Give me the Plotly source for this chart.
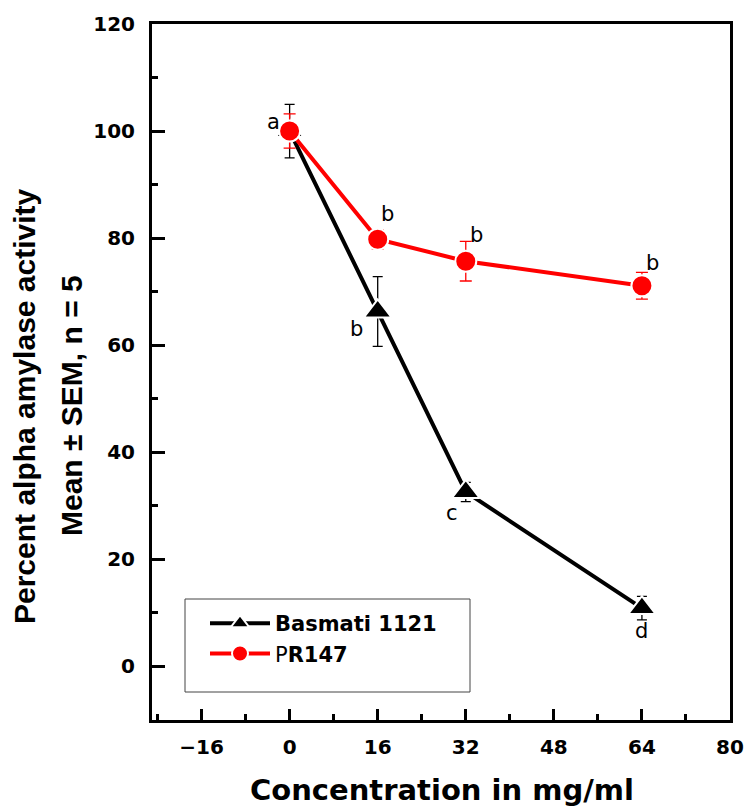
import plotly.graph_objects as go

# ---- data ----
conc = [0, 16, 32, 64]
basmati = [100, 66.3, 32.6, 10.9]
basmati_err = [5, 6.5, 1.8, 2.2]
pr147 = [100, 79.8, 75.7, 71.1]
pr147_err = [3.2, 1.8, 3.7, 2.5]
basmati_letters = ["", "b", "c", "d"]
pr147_letters = ["a", "b", "b", "b"]
x_title = "Concentration in mg/ml"
y_title_lines = ["Percent alpha amylase activity", "Mean ± SEM, n = 5"]

# ---- style ----
bas_offsets = [(0, 0), (-21, -17), (-14, -21), (0, -23)]
pr_offsets = [(-16, 9), (10, 25), (11, 26), (11, 23)]

W, H = 746, 807
L, R, T, B = 152, 16, 24, 87
PW, PH = W - L - R, H - T - B


def px_x(p):
    return (p - L) / PW


def px_y(p):
    return (H - B - p) / PH


fig = go.Figure()
fig.add_trace(go.Scatter(
    x=conc, y=basmati, name="<b>Basmati 1121</b>", mode="lines+markers",
    line=dict(color="black", width=4),
    marker=dict(symbol="triangle-up", size=24, color="black",
                line=dict(color="white", width=2)),
    error_y=dict(type="data", array=basmati_err, color="black",
                 thickness=1.3, width=5),
))
fig.add_trace(go.Scatter(
    x=conc, y=pr147, name="P<b>R147</b>", mode="lines+markers",
    line=dict(color="#ff0000", width=4),
    marker=dict(symbol="circle", size=21, color="#ff0000",
                line=dict(color="white", width=2)),
    error_y=dict(type="data", array=pr147_err, color="#ff0000",
                 thickness=1.3, width=6),
))

letter_font = dict(family="DejaVu Sans", size=21, color="black")
annotations = []
for xv, yv, t, (dx, dy) in zip(conc, basmati, basmati_letters, bas_offsets):
    if t:
        annotations.append(dict(x=xv, y=yv, xref="x", yref="y", text=t,
                                showarrow=False, xshift=dx, yshift=dy, font=letter_font))
for xv, yv, t, (dx, dy) in zip(conc, pr147, pr147_letters, pr_offsets):
    if t:
        annotations.append(dict(x=xv, y=yv, xref="x", yref="y", text=t,
                                showarrow=False, xshift=dx, yshift=dy, font=letter_font))

annotations.append(dict(x=px_x(442), y=px_y(790), xref="paper", yref="paper",
                        text="<b>" + x_title + "</b>", showarrow=False,
                        xanchor="center", yanchor="middle",
                        font=dict(family="DejaVu Sans", size=29, color="black")))
for line_text, cx in zip(y_title_lines, [24, 71]):
    annotations.append(dict(x=px_x(cx), y=px_y(406), xref="paper", yref="paper",
                            text="<b>" + line_text + "</b>",
                            showarrow=False, textangle=-90, xanchor="center", yanchor="middle",
                            font=dict(family="Liberation Sans", size=30, color="black")))

fig.update_layout(
    width=W, height=H,
    margin=dict(l=L, r=R, t=T, b=B),
    paper_bgcolor="white", plot_bgcolor="white",
    showlegend=True,
    legend=dict(x=px_x(205), y=px_y(603), xanchor="left", yanchor="top",
                bgcolor="rgba(0,0,0,0)", borderwidth=0,
                font=dict(family="DejaVu Sans", size=21, color="black"),
                itemwidth=60, tracegroupgap=0),
    annotations=annotations,
    shapes=[dict(type="rect", xref="paper", yref="paper",
                 x0=px_x(185), x1=px_x(470), y0=px_y(692), y1=px_y(599),
                 line=dict(color="#444444", width=1))],
)

tickfont = dict(family="DejaVu Sans", size=20, color="black")
fig.update_xaxes(
    range=[-25, 80], tick0=0, dtick=16, ticks="inside", ticklen=11, tickwidth=3,
    tickcolor="black", showline=True, linewidth=3, linecolor="black", mirror=True,
    showgrid=False, zeroline=False, tickfont=tickfont, tickprefix="<b>", ticksuffix="</b>",
    ticklabelstandoff=7, automargin=False,
    minor=dict(dtick=8, tick0=0, ticks="inside", ticklen=6, tickwidth=3, tickcolor="black"),
)
fig.update_yaxes(
    range=[-10, 120], tick0=0, dtick=20, ticks="inside", ticklen=13, tickwidth=3,
    tickcolor="black", showline=True, linewidth=3, linecolor="black", mirror=True,
    showgrid=False, zeroline=False, tickfont=tickfont, tickprefix="<b>", ticksuffix="</b>",
    ticklabelstandoff=10, automargin=False,
    minor=dict(dtick=10, tick0=0, ticks="inside", ticklen=6, tickwidth=3, tickcolor="black"),
)

fig.write_html("out.html")
